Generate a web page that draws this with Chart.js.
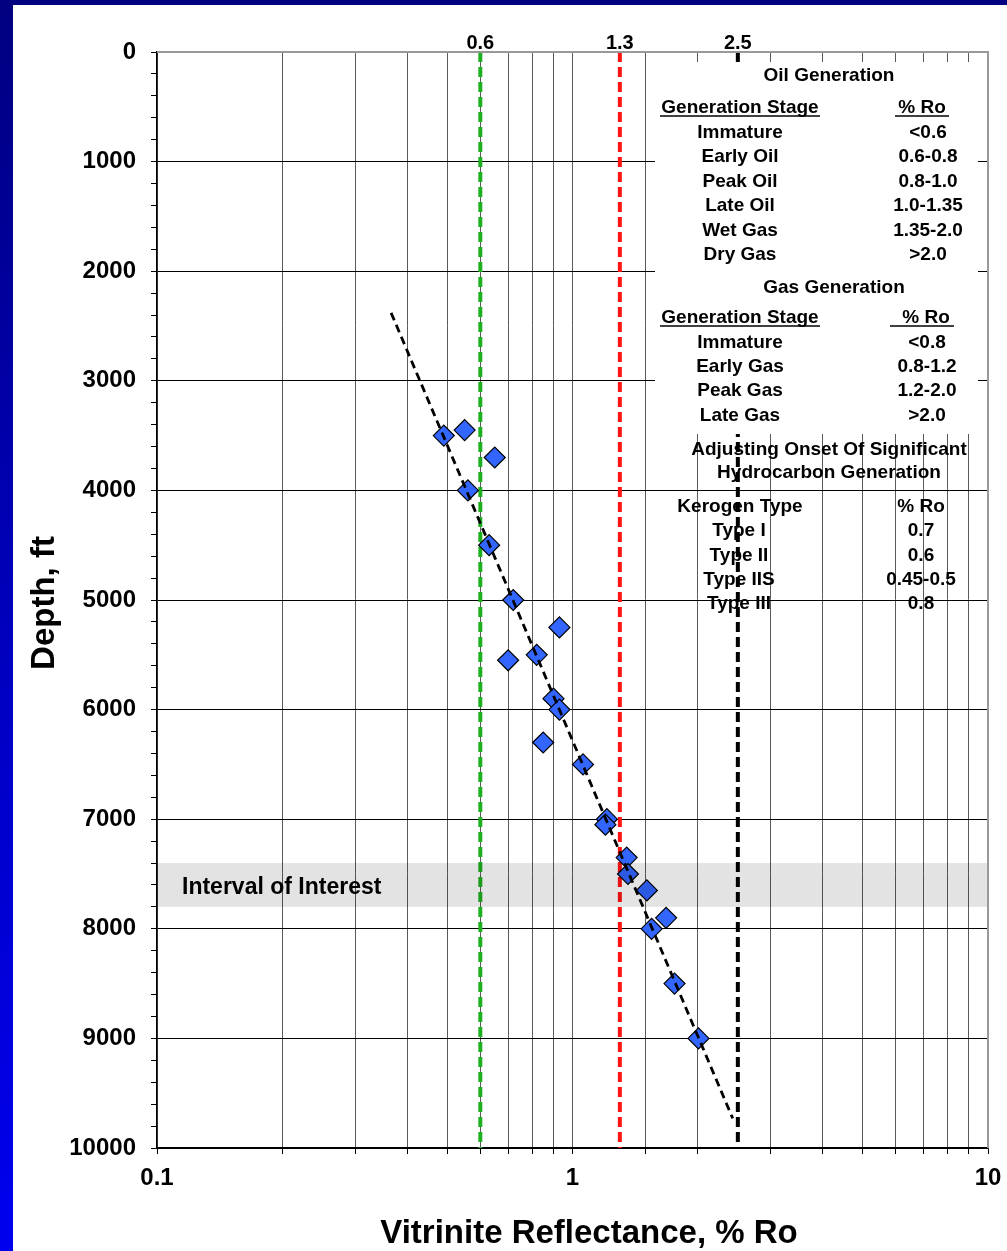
<!DOCTYPE html>
<html>
<head>
<meta charset="utf-8">
<script src="https://cdn.jsdelivr.net/npm/chart.js@4/dist/chart.umd.min.js"></script>
<style>
  html, body { margin: 0; padding: 0; }
  body {
    width: 1007px; height: 1251px; overflow: hidden; position: relative;
    background: linear-gradient(to bottom, #000080 0%, #0000c8 60%, #0000ee 100%);
  }
  #sheet { position: absolute; left: 13px; top: 5px; right: 0; bottom: 0; background: #fff; }
  #chart { position: absolute; left: 0; top: 0; }
</style>
</head>
<body>
<div id="sheet"></div>
<canvas id="chart" width="1007" height="1251"></canvas>
<script>
// Ma'lumotlar: chuqurlik (ft) va vitrinit aks ettirishi (% Ro)
const depthFt = [3450, 3500, 3700, 4000, 4500, 5000, 5250, 5500, 5550, 5900, 6000, 6300, 6500, 7000, 7050, 7350, 7500, 7650, 7900, 8000, 8500, 9000];
const roPct   = [0.55, 0.49, 0.65, 0.56, 0.63, 0.72, 0.93, 0.82, 0.70, 0.90, 0.93, 0.85, 1.06, 1.21, 1.20, 1.35, 1.36, 1.51, 1.68, 1.55, 1.76, 2.01];

// Trend chizig'i (ikki uchi)
const trendRo = [0.366, 2.43];
const trendDepth = [2380, 9730];

// Chegaraviy chiziqlar
const thresholdRo = [0.6, 1.3, 2.5];
const thresholdLabels = ['0.6', '1.3', '2.5'];
const thresholdColors = ['#1fb01f', '#ff1414', '#000000'];

// Qiziqish oralig'i
const intervalTop = 7400;
const intervalBottom = 7800;

// O'q belgilari
const xLabelValues = [0.1, 1, 10];
const depthMin = 0, depthMax = 10000;

// Jadval matnlari
const oilStages = ['Immature', 'Early Oil', 'Peak Oil', 'Late Oil', 'Wet Gas', 'Dry Gas'];
const oilRo = ['<0.6', '0.6-0.8', '0.8-1.0', '1.0-1.35', '1.35-2.0', '>2.0'];
const gasStages = ['Immature', 'Early Gas', 'Peak Gas', 'Late Gas'];
const gasRo = ['<0.8', '0.8-1.2', '1.2-2.0', '>2.0'];
const kerogenTypes = ['Type I', 'Type II', 'Type IIS', 'Type III'];
const kerogenRo = ['0.7', '0.6', '0.45-0.5', '0.8'];

const FONT = '"Liberation Sans", Arial, Helvetica, sans-serif';

const thresholdSets = thresholdRo.map((v, i) => ({
    type: 'line',
    data: [{ x: v, y: depthMin }, { x: v, y: depthMax }],
    borderColor: thresholdColors[i],
    borderWidth: 4,
    borderDash: [10, 5],
    pointRadius: 0,
    order: 3
}));

// Qo'shimcha chizmalar: oraliq, jadval, sarlavhalar
const overlay = {
    id: 'overlay',
    afterDatasetsDraw(chart) {
        const { ctx, chartArea: a, scales: { x, y } } = chart;
        ctx.save();

        // Interval of Interest
        const yT = y.getPixelForValue(intervalTop);
        const yB = y.getPixelForValue(intervalBottom);
        ctx.fillStyle = 'rgba(0,0,0,0.11)';
        ctx.fillRect(a.left, yT, a.right - a.left, yB - yT);
        ctx.fillStyle = '#000';
        ctx.font = 'bold 23px ' + FONT;
        ctx.textAlign = 'left';
        ctx.textBaseline = 'middle';
        ctx.fillText('Interval of Interest', a.left + 25, (yT + yB) / 2 + 3);

        // chegaralar
        ctx.strokeStyle = '#999';
        ctx.lineWidth = 2;
        ctx.beginPath();
        ctx.moveTo(a.left, a.top);
        ctx.lineTo(a.right, a.top);
        ctx.lineTo(a.right, a.bottom);
        ctx.stroke();

        // yuqoridagi belgilar
        ctx.font = 'bold 20px ' + FONT;
        ctx.textAlign = 'center';
        thresholdRo.forEach((v, i) => {
            ctx.fillText(thresholdLabels[i], x.getPixelForValue(v), a.top - 9);
        });

        // oq quti
        const bx = a.right - 333, by = a.top + 10;
        ctx.fillStyle = '#fff';
        ctx.fillRect(bx, by, 323, 372);

        ctx.fillStyle = '#000';
        ctx.font = 'bold 19px ' + FONT;
        const c1 = a.left + 583, c2 = a.left + 767, cm = a.left + 672;
        const text = (t, cx, cy) => ctx.fillText(t, cx, cy);
        const underline = (x1, x2, yy) => {
            ctx.lineWidth = 1.5;
            ctx.strokeStyle = '#000';
            ctx.beginPath(); ctx.moveTo(x1, yy); ctx.lineTo(x2, yy); ctx.stroke();
        };

        let ty = a.top;
        text('Oil Generation', cm, ty + 24);
        text('Generation Stage', c1, ty + 56);
        underline(c1 - 80, c1 + 80, ty + 64);
        text('% Ro', c2 - 2, ty + 56);
        underline(c2 - 29, c2 + 25, ty + 64);
        oilStages.forEach((s, i) => {
            text(s, c1, ty + 80.5 + i * 24.5);
            text(oilRo[i], c2 + 4, ty + 80.5 + i * 24.5);
        });

        text('Gas Generation', cm + 5, ty + 236);
        text('Generation Stage', c1, ty + 266);
        underline(c1 - 80, c1 + 80, ty + 274);
        text('% Ro', c2 + 2, ty + 266);
        underline(c2 - 34, c2 + 30, ty + 274);
        gasStages.forEach((s, i) => {
            text(s, c1, ty + 290.5 + i * 24.3);
            text(gasRo[i], c2 + 3, ty + 290.5 + i * 24.3);
        });

        text('Adjusting Onset Of Significant', cm, ty + 398);
        text('Hydrocarbon Generation', cm, ty + 421);
        text('Kerogen Type', c1, ty + 455);
        text('% Ro', c2 - 3, ty + 455);
        kerogenTypes.forEach((s, i) => {
            text(s, c1 - 1, ty + 479 + i * 24.3);
            text(kerogenRo[i], c2 - 3, ty + 479 + i * 24.3);
        });

        // o'q sarlavhalari
        ctx.font = 'bold 33px ' + FONT;
        ctx.fillText('Vitrinite Reflectance, % Ro', 589, 1234);
        ctx.translate(45, 603);
        ctx.rotate(-Math.PI / 2);
        ctx.fillText('Depth, ft', 0, 0);

        ctx.restore();
    }
};

const ctx = document.getElementById('chart').getContext('2d');
const chart = new Chart(ctx, {
    type: 'scatter',
    data: {
        datasets: [
            {
                type: 'line',
                data: trendRo.map((v, i) => ({ x: v, y: trendDepth[i] })),
                borderColor: '#000',
                borderWidth: 2.8,
                borderDash: [8, 5],
                pointRadius: 0,
                order: 1
            },
            {
                data: roPct.map((v, i) => ({ x: v, y: depthFt[i] })),
                pointStyle: 'rectRot',
                pointRadius: 10.5,
                pointHoverRadius: 10.5,
                backgroundColor: '#3366ff',
                borderColor: '#000',
                borderWidth: 1.2,
                order: 2
            },
            ...thresholdSets
        ]
    },
    options: {
        responsive: false,
        animation: false,
        layout: { padding: { left: 0, right: 19, top: 52, bottom: 0 } },
        plugins: { legend: { display: false }, tooltip: { enabled: false } },
        scales: {
            x: {
                type: 'logarithmic',
                min: 0.1,
                max: 10,
                afterFit: s => { s.height = 103; s.paddingLeft = 0; s.paddingRight = 0; },
                border: { color: '#000', width: 1.5 },
                grid: { color: '#5a5a5a', lineWidth: 1, tickLength: 6, tickColor: '#000' },
                ticks: {
                    autoSkip: false,
                    maxRotation: 0,
                    padding: 10,
                    color: '#000',
                    font: { family: FONT, size: 24, weight: 'bold' },
                    callback: v => {
                        const hit = xLabelValues.find(t => Math.abs(Math.log10(v) - Math.log10(t)) < 1e-6);
                        return hit !== undefined ? String(hit) : '';
                    }
                }
            },
            y: {
                type: 'linear',
                reverse: true,
                min: depthMin,
                max: depthMax,
                afterFit: s => { s.width = 157; s.paddingTop = 0; s.paddingBottom = 0; },
                border: { color: '#000', width: 1.5 },
                grid: {
                    color: c => (c.tick && c.tick.value % 1000 === 0) ? '#000' : 'rgba(0,0,0,0)',
                    lineWidth: 1,
                    tickLength: 6,
                    tickColor: '#000'
                },
                ticks: {
                    stepSize: 200,
                    autoSkip: false,
                    padding: 15,
                    color: '#000',
                    font: { family: FONT, size: 24, weight: 'bold' },
                    callback: v => v % 1000 === 0 ? String(v) : ''
                }
            }
        }
    },
    plugins: [overlay]
});
</script>
</body>
</html>
